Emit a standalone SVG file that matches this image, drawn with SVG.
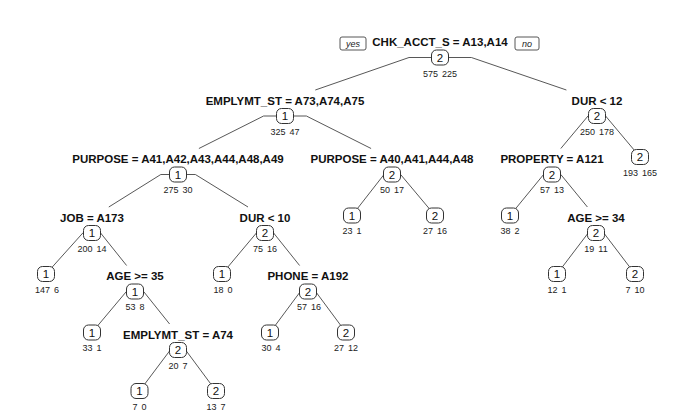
<svg xmlns="http://www.w3.org/2000/svg" width="679" height="416" viewBox="0 0 679 416">
<style>
.lbl{font-family:"Liberation Sans",Arial,sans-serif;font-weight:bold;font-size:11.5px;fill:#111;text-anchor:middle}
.cnt{font-family:"Liberation Sans",Arial,sans-serif;font-size:9px;fill:#222;text-anchor:middle;word-spacing:1.5px}
.num{font-family:"Liberation Sans",Arial,sans-serif;font-size:11.5px;fill:#111;text-anchor:middle}
.box{fill:#fff;stroke:#333;stroke-width:1}
.yn{fill:#fff;stroke:#444;stroke-width:0.9}
.ynt{font-family:"Liberation Sans",Arial,sans-serif;font-style:italic;font-size:9px;fill:#222;text-anchor:middle}
.edge{fill:none;stroke:#444;stroke-width:0.9}
</style>
<defs>
<rect id="b" class="box" x="-8.5" y="-7.5" width="17" height="15" rx="5"/>
</defs>
<rect width="679" height="416" fill="#fff"/>
<g id="connectors">
<path class="edge" d="M440 57.5H409L315.3 90"/>
<path class="edge" d="M440 57.5H471.4L566.4 90"/>
<path class="edge" d="M285 116H263.6L198.9 148.5"/>
<path class="edge" d="M285 116H306.4L371.1 148.5"/>
<path class="edge" d="M597 116H588L560.8 148.5"/>
<path class="edge" d="M597 116H605.6L640 157"/>
<path class="edge" d="M178 174.5H160.8L108.8 207"/>
<path class="edge" d="M178 174.5H195.4L248 207"/>
<path class="edge" d="M392 174.5H384L352 215.5"/>
<path class="edge" d="M392 174.5H400.6L435 215.5"/>
<path class="edge" d="M552 174.5H543.6L510 215.5"/>
<path class="edge" d="M552 174.5H560.8L587.4 207"/>
<path class="edge" d="M92 233H82.8L46 274"/>
<path class="edge" d="M92 233H100.6L126.6 265.5"/>
<path class="edge" d="M265 233H256.4L222 274"/>
<path class="edge" d="M265 233H273.6L299.6 265.5"/>
<path class="edge" d="M596 233H588.2L557 274"/>
<path class="edge" d="M596 233H603.8L635 274"/>
<path class="edge" d="M135 291.5H126.4L92 332.5"/>
<path class="edge" d="M135 291.5H143.6L169.6 324"/>
<path class="edge" d="M308 291.5H300.4L270 332.5"/>
<path class="edge" d="M308 291.5H315.6L346 332.5"/>
<path class="edge" d="M178 350H170.3L139.5 391"/>
<path class="edge" d="M178 350H185.6L216 391"/>
</g>
<g id="yesno">
<rect class="yn" x="340" y="37" width="26" height="13" rx="2"/>
<text class="ynt" x="353" y="47">yes</text>
<rect class="yn" x="515" y="37" width="24" height="13" rx="2"/>
<text class="ynt" x="527" y="47">no</text>
</g>
<g id="n1"><text class="lbl" x="440" y="46">CHK_ACCT_S = A13,A14</text><use href="#b" x="440" y="57.5"/><text class="num" x="440" y="61.5">2</text><text class="cnt" x="440" y="77">575 225</text></g>
<g id="n2"><text class="lbl" x="285" y="104.5">EMPLYMT_ST = A73,A74,A75</text><use href="#b" x="285" y="116"/><text class="num" x="285" y="120">1</text><text class="cnt" x="285" y="134.5">325 47</text></g>
<g id="n3"><text class="lbl" x="597" y="104.5">DUR &lt; 12</text><use href="#b" x="597" y="116"/><text class="num" x="597" y="120">2</text><text class="cnt" x="597" y="134.5">250 178</text></g>
<g id="n4"><text class="lbl" x="178" y="163">PURPOSE = A41,A42,A43,A44,A48,A49</text><use href="#b" x="178" y="174.5"/><text class="num" x="178" y="178.5">1</text><text class="cnt" x="178" y="193">275 30</text></g>
<g id="n5"><text class="lbl" x="392" y="163">PURPOSE = A40,A41,A44,A48</text><use href="#b" x="392" y="174.5"/><text class="num" x="392" y="178.5">2</text><text class="cnt" x="392" y="193">50 17</text></g>
<g id="n6"><text class="lbl" x="552" y="163">PROPERTY = A121</text><use href="#b" x="552" y="174.5"/><text class="num" x="552" y="178.5">2</text><text class="cnt" x="552" y="193">57 13</text></g>
<g id="n7"><use href="#b" x="640" y="157"/><text class="num" x="640" y="161">2</text><text class="cnt" x="640" y="175.5">193 165</text></g>
<g id="n8"><text class="lbl" x="92" y="221.5">JOB = A173</text><use href="#b" x="92" y="233"/><text class="num" x="92" y="237">1</text><text class="cnt" x="92" y="251.5">200 14</text></g>
<g id="n9"><text class="lbl" x="265" y="221.5">DUR &lt; 10</text><use href="#b" x="265" y="233"/><text class="num" x="265" y="237">2</text><text class="cnt" x="265" y="251.5">75 16</text></g>
<g id="n10"><use href="#b" x="352" y="215.5"/><text class="num" x="352" y="219.5">1</text><text class="cnt" x="352" y="234">23 1</text></g>
<g id="n11"><use href="#b" x="435" y="215.5"/><text class="num" x="435" y="219.5">2</text><text class="cnt" x="435" y="234">27 16</text></g>
<g id="n12"><use href="#b" x="510" y="215.5"/><text class="num" x="510" y="219.5">1</text><text class="cnt" x="510" y="234">38 2</text></g>
<g id="n13"><text class="lbl" x="596" y="221.5">AGE &gt;= 34</text><use href="#b" x="596" y="233"/><text class="num" x="596" y="237">2</text><text class="cnt" x="596" y="251.5">19 11</text></g>
<g id="n14"><use href="#b" x="46" y="274"/><text class="num" x="46" y="278">1</text><text class="cnt" x="47" y="292.5">147 6</text></g>
<g id="n15"><text class="lbl" x="135" y="280">AGE &gt;= 35</text><use href="#b" x="135" y="291.5"/><text class="num" x="135" y="295.5">1</text><text class="cnt" x="135" y="310">53 8</text></g>
<g id="n16"><use href="#b" x="222" y="274"/><text class="num" x="222" y="278">1</text><text class="cnt" x="223" y="292.5">18 0</text></g>
<g id="n17"><text class="lbl" x="308" y="280">PHONE = A192</text><use href="#b" x="308" y="291.5"/><text class="num" x="308" y="295.5">2</text><text class="cnt" x="309" y="310">57 16</text></g>
<g id="n18"><use href="#b" x="557" y="274"/><text class="num" x="557" y="278">1</text><text class="cnt" x="557" y="292.5">12 1</text></g>
<g id="n19"><use href="#b" x="635" y="274"/><text class="num" x="635" y="278">2</text><text class="cnt" x="635" y="292.5">7 10</text></g>
<g id="n20"><use href="#b" x="92" y="332.5"/><text class="num" x="92" y="336.5">1</text><text class="cnt" x="92" y="351">33 1</text></g>
<g id="n21"><text class="lbl" x="178" y="338.5">EMPLYMT_ST = A74</text><use href="#b" x="178" y="350"/><text class="num" x="178" y="354">2</text><text class="cnt" x="178" y="368.5">20 7</text></g>
<g id="n22"><use href="#b" x="270" y="332.5"/><text class="num" x="270" y="336.5">1</text><text class="cnt" x="271" y="351">30 4</text></g>
<g id="n23"><use href="#b" x="346" y="332.5"/><text class="num" x="346" y="336.5">2</text><text class="cnt" x="346" y="351">27 12</text></g>
<g id="n24"><use href="#b" x="139.5" y="391"/><text class="num" x="139.5" y="395">1</text><text class="cnt" x="139.5" y="409.5">7 0</text></g>
<g id="n25"><use href="#b" x="216" y="391"/><text class="num" x="216" y="395">2</text><text class="cnt" x="216" y="409.5">13 7</text></g>
</svg>
